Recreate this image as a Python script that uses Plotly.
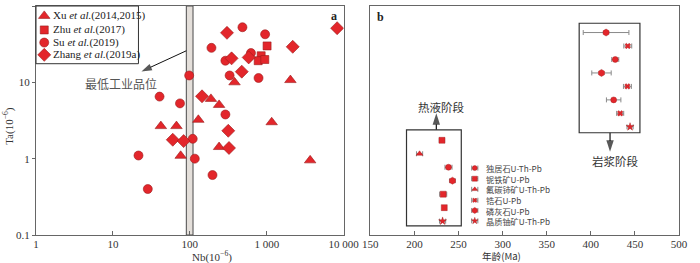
import plotly.graph_objects as go
import math

# ---------------- data: panel a ----------------
xu_nb = [42, 67, 76, 129, 188, 240, 240, 381, 2030, 1159, 3664]
xu_ta = [2.67, 2.67, 1.09, 3.23, 6.07, 5.06, 1.42, 10.0, 10.7, 3.0, 0.95]
zhu_nb = [1010, 846, 774, 943]
zhu_ta = [30, 22.3, 19.2, 19.9]
su_nb = [483, 952, 191, 623, 290, 329, 782, 98, 40.4, 74.5, 290, 109, 116, 21.5, 28.4, 197]
su_ta = [52.7, 42.6, 28.3, 24.2, 19.2, 12.3, 11.4, 12.3, 6.5, 5.3, 3.79, 1.82, 1.0, 1.10, 0.40, 0.61]
zhang_nb = [304, 8220, 2176, 349, 582, 473, 144, 316, 60, 83, 323]
zhang_ta = [44.5, 51.2, 29.2, 20.6, 21.2, 13.8, 6.56, 2.32, 1.77, 1.70, 1.38]
grade_nb = [90, 110]
a_legend = ["Xu <i>et al.</i>(2014,2015)", "Zhu <i>et al.</i>(2017)",
            "Su <i>et al.</i>(2019)", "Zhang <i>et al.</i>(2019a)"]
x_tickvals = [1, 10, 100, 1000, 10000]
x_ticktext = ["1", "10", "100", "1 000", "10 000"]
y_tickvals = [0.1, 1, 10, 100]
y_ticktext = ["0.1", "1", "10", "100"]

# ---------------- data: panel b ----------------
ages = [417.3, 441.9, 427.7, 412.1, 441.5, 425.9, 433.3, 444.5,
        231.2, 205.8, 238.6, 243.1, 232.6, 233.8, 231.9]
errs = [25.9, 4.5, 4.0, 11.0, 4.5, 8.2, 4.0, 3.5,
        3.0, 3.5, 4.0, 3.0, 4.0, 2.0, 3.5]
minerals = [4, 3, 0, 4, 3, 0, 3, 5,
            1, 2, 0, 4, 1, 1, 5]
mineral_names = ["独居石U-Th-Pb", "铌铁矿U-Pb", "氟碳铈矿U-Th-Pb",
                 "锆石U-Pb", "磷灰石U-Pb", "晶质铀矿U-Th-Pb"]
b_ticks = [150, 200, 250, 300, 350, 400, 450, 500]

RED = "#e3262b"
EDGE = "#9b1b1b"
SERIF = "Liberation Serif, Times New Roman, serif"
CJK = "Noto Sans CJK SC, sans-serif"

fig = go.Figure()

# ---- panel a scatter ----
def add_a(nb, ta, sym, size):
    fig.add_trace(go.Scatter(x=nb, y=ta, mode="markers", xaxis="x", yaxis="y",
                             marker=dict(symbol=sym, size=size, color=RED,
                                         line=dict(color=EDGE, width=0.6)),
                             showlegend=False, hoverinfo="skip"))

add_a(xu_nb, xu_ta, "triangle-up", 10)
add_a(zhu_nb, zhu_ta, "square", 8)
add_a(su_nb, su_ta, "circle", 9)
add_a(zhang_nb, zhang_ta, "diamond", 10)

# legend glyphs for panel a (legend box area)
leg_syms = [("triangle-up", 10), ("square", 8), ("circle", 9), ("diamond", 10)]
leg_y = [74.2, 48.6, 33.2, 22.9]
for (sym, sz), yy in zip(leg_syms, leg_y):
    fig.add_trace(go.Scatter(x=[1.28], y=[yy], mode="markers", xaxis="x", yaxis="y",
                             marker=dict(symbol=sym, size=sz, color=RED,
                                         line=dict(color=EDGE, width=0.6)),
                             showlegend=False, hoverinfo="skip"))

# arrow from the grade band towards its label (panel a)
fig.add_trace(go.Scatter(x=[90, 23.5], y=[25.9, 13.9], mode="lines+markers",
                         xaxis="x", yaxis="y",
                         line=dict(color="#111", width=1),
                         marker=dict(symbol="arrow", size=[0, 11], angleref="previous",
                                     color="#111", line=dict(width=0)),
                         showlegend=False, hoverinfo="skip"))

# ---- panel b scatter ----
b_syms = [("circle", 6), ("square", 6), ("triangle-up", 6),
          ("x", 5), ("hexagon", 7), ("star", 6)]
yidx = list(range(1, len(ages) + 1))
for m in range(len(mineral_names)):
    xs = [a for a, k in zip(ages, minerals) if k == m]
    es = [e for e, k in zip(errs, minerals) if k == m]
    ys = [y for y, k in zip(yidx, minerals) if k == m]
    sym, sz = b_syms[m]
    fig.add_trace(go.Scatter(x=xs, y=ys, mode="markers", xaxis="x2", yaxis="y2",
                             error_x=dict(type="data", array=es, color="#8a8a8a",
                                          thickness=1, width=2.5),
                             marker=dict(symbol=sym, size=sz, color=RED,
                                         line=dict(color=EDGE, width=0.4)),
                             showlegend=False, hoverinfo="skip"))
# legend glyphs panel b
leg_by = [11.06, 11.85, 12.64, 13.45, 14.21, 14.98]
for m, yy in enumerate(leg_by):
    sym, sz = b_syms[m]
    fig.add_trace(go.Scatter(x=[268.4], y=[yy], mode="markers", xaxis="x2", yaxis="y2",
                             error_x=dict(type="data", array=[3.5], color="#8a8a8a",
                                          thickness=1, width=2.5),
                             marker=dict(symbol=sym, size=sz - 1, color=RED,
                                         line=dict(color=EDGE, width=0.4)),
                             showlegend=False, hoverinfo="skip"))

# stage arrows (panel b)
fig.add_trace(go.Scatter(x=[224.8, 224.8], y=[8.22, 7.0], mode="lines+markers",
                         xaxis="x2", yaxis="y2", line=dict(color="#111", width=1.2),
                         marker=dict(symbol="arrow", size=[0, 12], angleref="previous",
                                     color="#111", line=dict(width=0)),
                         showlegend=False, hoverinfo="skip"))
fig.add_trace(go.Scatter(x=[421.8, 421.8], y=[8.44, 9.85], mode="lines+markers",
                         xaxis="x2", yaxis="y2", line=dict(color="#111", width=1.2),
                         marker=dict(symbol="arrow", size=[0, 12], angleref="previous",
                                     color="#111", line=dict(width=0)),
                         showlegend=False, hoverinfo="skip"))

shapes = []
annotations = []

# band of minimum industrial grade
shapes.append(dict(type="rect", xref="x", yref="y domain", x0=grade_nb[0], x1=grade_nb[1],
                   y0=0, y1=1, fillcolor="#e4dfda", line=dict(color="#4a4a4a", width=1),
                   layer="below"))
# legend box a
shapes.append(dict(type="rect", xref="x domain", yref="y domain", x0=0, x1=0.333,
                   y0=0.748, y1=1, fillcolor="rgba(0,0,0,0)", line=dict(color="#333", width=1)))
leg_ty = [0.957, 0.896, 0.840, 0.787]
for t, yy in zip(a_legend, leg_ty):
    annotations.append(dict(xref="x domain", yref="y domain", x=0.05, y=yy, text=t,
                            showarrow=False, xanchor="left", yanchor="middle",
                            font=dict(family=SERIF, size=11, color="#222")))
annotations.append(dict(xref="x", yref="y", x=1.109, y=math.log10(9.7),
                        text="最低工业品位", showarrow=False,
                        font=dict(family=CJK, size=12, color="#555")))
annotations.append(dict(xref="x domain", yref="y domain", x=0.985, y=0.995, text="<b>a</b>",
                        showarrow=False, xanchor="right", yanchor="top",
                        font=dict(family=SERIF, size=12, color="#222")))

# panel b boxes
shapes.append(dict(type="rect", xref="x2", yref="y2", x0=191, x1=253.1, y0=8.22, y1=15.35,
                   line=dict(color="#333", width=1.2)))
shapes.append(dict(type="rect", xref="x2", yref="y2", x0=386.8, x1=455.7, y0=0.31, y1=8.44,
                   line=dict(color="#333", width=1.2)))
annotations.append(dict(xref="x2", yref="y2", x=230.8, y=6.5, text="热液阶段", showarrow=False,
                        font=dict(family=CJK, size=11.5, color="#333")))
annotations.append(dict(xref="x2", yref="y2", x=428, y=10.56, text="岩浆阶段", showarrow=False,
                        font=dict(family=CJK, size=11.5, color="#333")))
annotations.append(dict(xref="x2", yref="y2", x=278.5, y=sum(leg_by) / len(leg_by),
                        text="<br>".join(mineral_names), showarrow=False, align="left",
                        xanchor="left", yanchor="middle",
                        font=dict(family=CJK, size=8.2, color="#444")))
annotations.append(dict(xref="x2 domain", yref="y2 domain", x=0.015, y=0.99, text="<b>b</b>",
                        showarrow=False, xanchor="left", yanchor="top",
                        font=dict(family=SERIF, size=12, color="#222")))

# axis titles
annotations.append(dict(xref="paper", yref="paper", x=(191.7 - 36) / 652, y=(235 - 256.5) / 230,
                        text="Nb(10<sup>−6</sup>)", showarrow=False, yanchor="middle",
                        font=dict(family=SERIF, size=11, color="#333")))
annotations.append(dict(xref="paper", yref="paper", x=(530 - 36) / 652, y=(235 - 256.3) / 230,
                        text="年龄(Ma)", showarrow=False, yanchor="middle",
                        font=dict(family=CJK, size=9.6, color="#333")))
annotations.append(dict(xref="paper", yref="paper", x=(8 - 36) / 652, y=(235 - 125) / 230,
                        text="Ta(10<sup>−6</sup>)", showarrow=False, textangle=-90,
                        xanchor="center", yanchor="middle",
                        font=dict(family=SERIF, size=11, color="#333")))

axis_common = dict(showline=True, linecolor="#666", linewidth=1, mirror=True,
                   showgrid=False, zeroline=False,
                   tickfont=dict(family=SERIF, size=11, color="#333"))

fig.update_layout(
    width=700, height=263,
    margin=dict(l=36, r=12, t=5, b=28),
    paper_bgcolor="white", plot_bgcolor="white",
    showlegend=False,
    xaxis=dict(type="log", domain=[0, 0.4785], range=[0, 4],
               tickvals=x_tickvals, ticktext=x_ticktext, ticks="inside", ticklen=4,
               tickcolor="#666", anchor="y", ticklabelstandoff=-1, **axis_common),
    yaxis=dict(type="log", domain=[0, 1], range=[-1, 2],
               tickvals=y_tickvals, ticktext=y_ticktext, ticks="outside", ticklen=3,
               tickcolor="#666", anchor="x", **axis_common),
    xaxis2=dict(domain=[0.52, 1], range=[150, 500], tickvals=b_ticks,
                ticks="inside", ticklen=4, tickcolor="#666", anchor="y2",
                ticklabelstandoff=-1, **axis_common),
    yaxis2=dict(domain=[0, 1], range=[16.03, -0.97], showticklabels=False, ticks="",
                anchor="x2", **axis_common),
    shapes=shapes,
    annotations=annotations,
)

fig.write_html("out.html", config={"displayModeBar": False},
               post_script="document.body.style.margin='0';document.body.style.overflow='hidden';")
